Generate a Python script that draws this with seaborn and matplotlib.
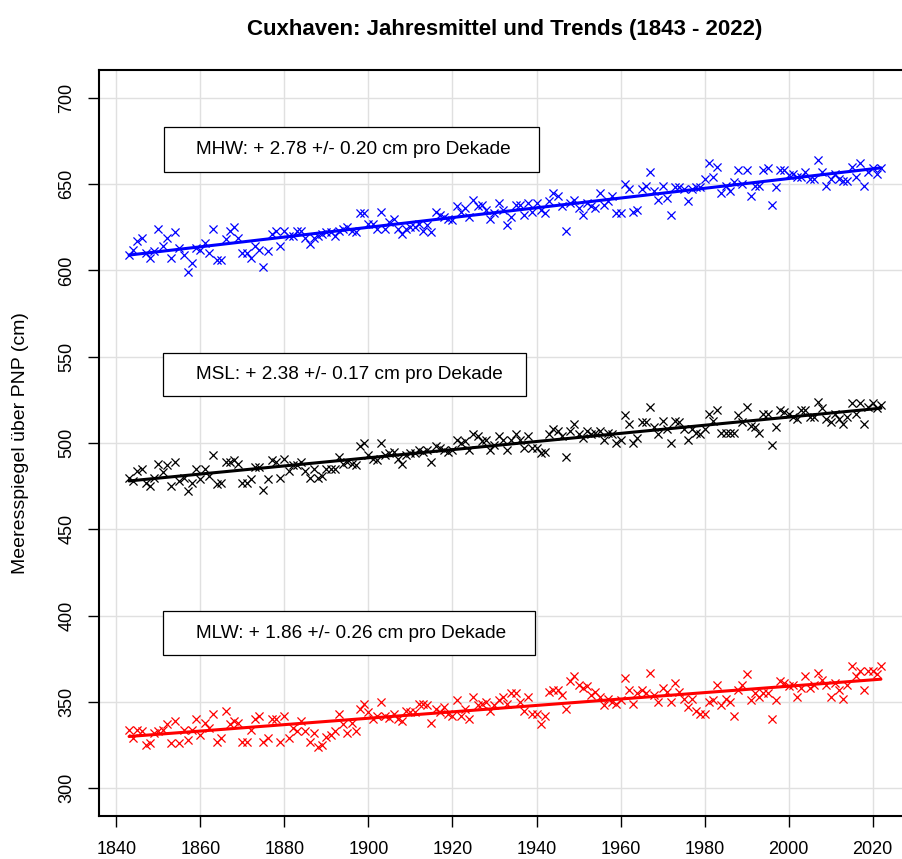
"""Cuxhaven: annual mean high water, mean sea level and mean low water
with linear trends (1843 - 2022)."""

import pandas as pd
import matplotlib
matplotlib.use("Agg")
import matplotlib.pyplot as plt
from matplotlib.patches import Rectangle
import seaborn as sns

# Data (cm above PNP)
years = list(range(1843, 2023))

mhw = [
    609, 612, 617, 619, 610, 607, 611,
    624, 614, 619, 607, 622, 613, 609, 599, 604, 613,
    612, 616, 610, 624, 606, 606, 618, 623, 625, 619,
    610, 610, 607, 614, 612, 602, 611, 621, 623, 614,
    623, 620, 620, 623, 623, 619, 615, 619, 620, 621,
    622, 622, 620, 623, 624, 625, 623, 622, 633, 633,
    627, 627, 624, 634, 624, 628, 630, 624, 621, 624,
    625, 625, 627, 623, 626, 622, 634, 632, 631, 630,
    629, 637, 634, 636, 631, 641, 637, 638, 635, 630,
    633, 639, 635, 626, 631, 638, 638, 632, 639, 634,
    639, 635, 633, 640, 645, 643, 637, 623, 639, 641,
    636, 632, 639, 637, 636, 645, 638, 640, 643, 633,
    633, 650, 647, 634, 635, 647, 649, 657, 646, 641,
    649, 642, 632, 648, 648, 647, 640, 647, 648, 648,
    653, 662, 654, 660, 645, 649, 646, 651, 658, 650,
    658, 643, 649, 649, 658, 659, 638, 648, 658, 658,
    655, 656, 654, 654, 657, 653, 653, 664, 657, 649,
    653, 656, 653, 652, 652, 660, 654, 662, 649, 657,
    659, 656, 659,
]

msl = [
    480, 478, 484, 485, 477, 475, 480,
    488, 483, 487, 475, 489, 478, 480, 472, 477, 485,
    479, 485, 481, 493, 476, 477, 489, 489, 490, 488,
    477, 477, 479, 486, 486, 473, 479, 490, 489, 480,
    491, 484, 487, 487, 489, 484, 480, 485, 480, 481,
    485, 485, 485, 492, 488, 489, 488, 487, 498, 500,
    493, 491, 490, 500, 493, 494, 495, 491, 488, 493,
    494, 494, 496, 495, 496, 489, 498, 497, 496, 495,
    496, 502, 500, 501, 496, 505, 504, 501, 502, 496,
    499, 504, 502, 496, 502, 505, 502, 497, 504, 497,
    497, 494, 495, 505, 508, 507, 504, 492, 507, 511,
    505, 503, 507, 505, 506, 507, 502, 506, 505, 500,
    502, 516, 511, 500, 503, 512, 512, 521, 509, 505,
    513, 508, 500, 513, 512, 508, 502, 508, 506, 505,
    508, 517, 513, 519, 506, 506, 506, 506, 516, 512,
    521, 510, 509, 506, 517, 517, 499, 509, 519, 518,
    517, 515, 514, 519, 519, 515, 515, 524, 520, 514,
    512, 517, 514, 511, 515, 523, 517, 523, 511, 521,
    523, 520, 522,
]

mlw = [
    334, 329, 334, 333, 325, 326, 332,
    333, 334, 337, 326, 339, 326, 334, 328, 334, 340,
    331, 338, 335, 343, 327, 329, 345, 337, 339, 338,
    327, 327, 334, 340, 342, 327, 329, 340, 340, 327,
    342, 329, 335, 333, 339, 333, 327, 332, 324, 325,
    330, 331, 333, 343, 337, 332, 338, 333, 346, 349,
    344, 340, 342, 350, 342, 341, 343, 340, 339, 345,
    344, 344, 349, 349, 348, 338, 346, 344, 347, 343,
    342, 351, 342, 346, 340, 353, 348, 349, 350, 345,
    348, 351, 353, 349, 355, 355, 350, 345, 353, 343,
    343, 337, 342, 356, 357, 357, 354, 346, 362, 365,
    360, 358, 359, 354, 356, 353, 348, 352, 350, 349,
    351, 364, 357, 349, 355, 357, 355, 367, 354, 350,
    358, 356, 350, 361, 356, 352, 347, 352, 345, 343,
    343, 350, 351, 360, 348, 352, 350, 342, 357, 360,
    366, 351, 355, 353, 355, 355, 340, 351, 362, 361,
    359, 360, 353, 358, 365, 358, 360, 367, 363, 360,
    353, 361, 357, 352, 360, 371, 365, 368, 357, 368,
    368, 366, 371,
]

series_names = ["MHW", "MSL", "MLW"]
trend_texts = [
    "MHW: + 2.78 +/- 0.20 cm pro Dekade",
    "MSL: + 2.38 +/- 0.17 cm pro Dekade",
    "MLW: + 1.86 +/- 0.26 cm pro Dekade",
]

x_ticks = [1840, 1860, 1880, 1900, 1920, 1940, 1960, 1980, 2000, 2020]
y_ticks = [300, 350, 400, 450, 500, 550, 600, 650, 700]

# Styles / layout
COLORS = {"MHW": "#0000ff", "MSL": "#000000", "MLW": "#ff0000"}
# label boxes in data coords: (x0, y0, width, height), text y
BOXES = {
    "MHW": (1851.2, 657.2, 89.4, 26.0, 670.2),
    "MSL": (1851.0, 527.0, 86.5, 25.4, 539.7),
    "MLW": (1851.0, 377.0, 88.6, 25.5, 389.7),
}
TEXT_X = 1859.0

df = pd.DataFrame({
    "Jahr": years * 3,
    "Wert": mhw + msl + mlw,
    "Reihe": [n for n in series_names for _ in years],
})

sns.set_theme(style="white")
plt.rcParams["font.family"] = ["Liberation Sans", "DejaVu Sans"]
plt.rcParams.update({
    "text.color": "black",
    "axes.labelcolor": "black",
    "axes.titlecolor": "black",
    "xtick.color": "black",
    "ytick.color": "black",
})

fig = plt.figure(figsize=(9.02, 8.59), dpi=100)
ax = fig.add_axes([99 / 902, 43 / 859, 812 / 902, 746 / 859])

ax.grid(True, color="#e0e0e0", linewidth=1)
ax.set_axisbelow(True)

for name in series_names:
    sub = df[df["Reihe"] == name]
    c = COLORS[name]
    sns.scatterplot(data=sub, x="Jahr", y="Wert", marker="x", color=c,
                    s=34, linewidth=0.9, ax=ax, legend=False, zorder=3)
    sns.regplot(data=sub, x="Jahr", y="Wert", scatter=False, ci=None,
                color=c, line_kws={"linewidth": 2.2, "zorder": 4}, ax=ax)

for name, txt in zip(series_names, trend_texts):
    x0, y0, w, h, ty = BOXES[name]
    ax.add_patch(Rectangle((x0, y0), w, h, facecolor="white",
                           edgecolor="black", linewidth=0.9, zorder=5))
    ax.text(TEXT_X, ty, txt, ha="left", va="center", fontsize=13.7,
            color="black", zorder=6)

ax.set_xlim(1835.84, 2029.16)
ax.set_ylim(284, 716)
ax.set_xticks(x_ticks)
ax.set_yticks(y_ticks)

for spine in ax.spines.values():
    spine.set_visible(True)
    spine.set_color("black")
    spine.set_linewidth(1.5)

ax.tick_params(axis="both", direction="out", length=8, width=1,
               color="black", labelcolor="black", labelsize=13,
               left=True, bottom=True)
ax.tick_params(axis="x", pad=10)
ax.tick_params(axis="y", pad=9)
for lab in ax.get_yticklabels():
    lab.set_rotation(90)
    lab.set_va("center")

ax.set_xlabel("")
ax.set_ylabel("Meeresspiegel über PNP (cm)", fontsize=14, color="black")
ax.yaxis.set_label_coords(-0.086, 0.5)
ax.set_title("Cuxhaven: Jahresmittel und Trends (1843 - 2022)",
             fontsize=16, fontweight="bold", pad=25, color="black")

fig.savefig("out.png", dpi=100)
